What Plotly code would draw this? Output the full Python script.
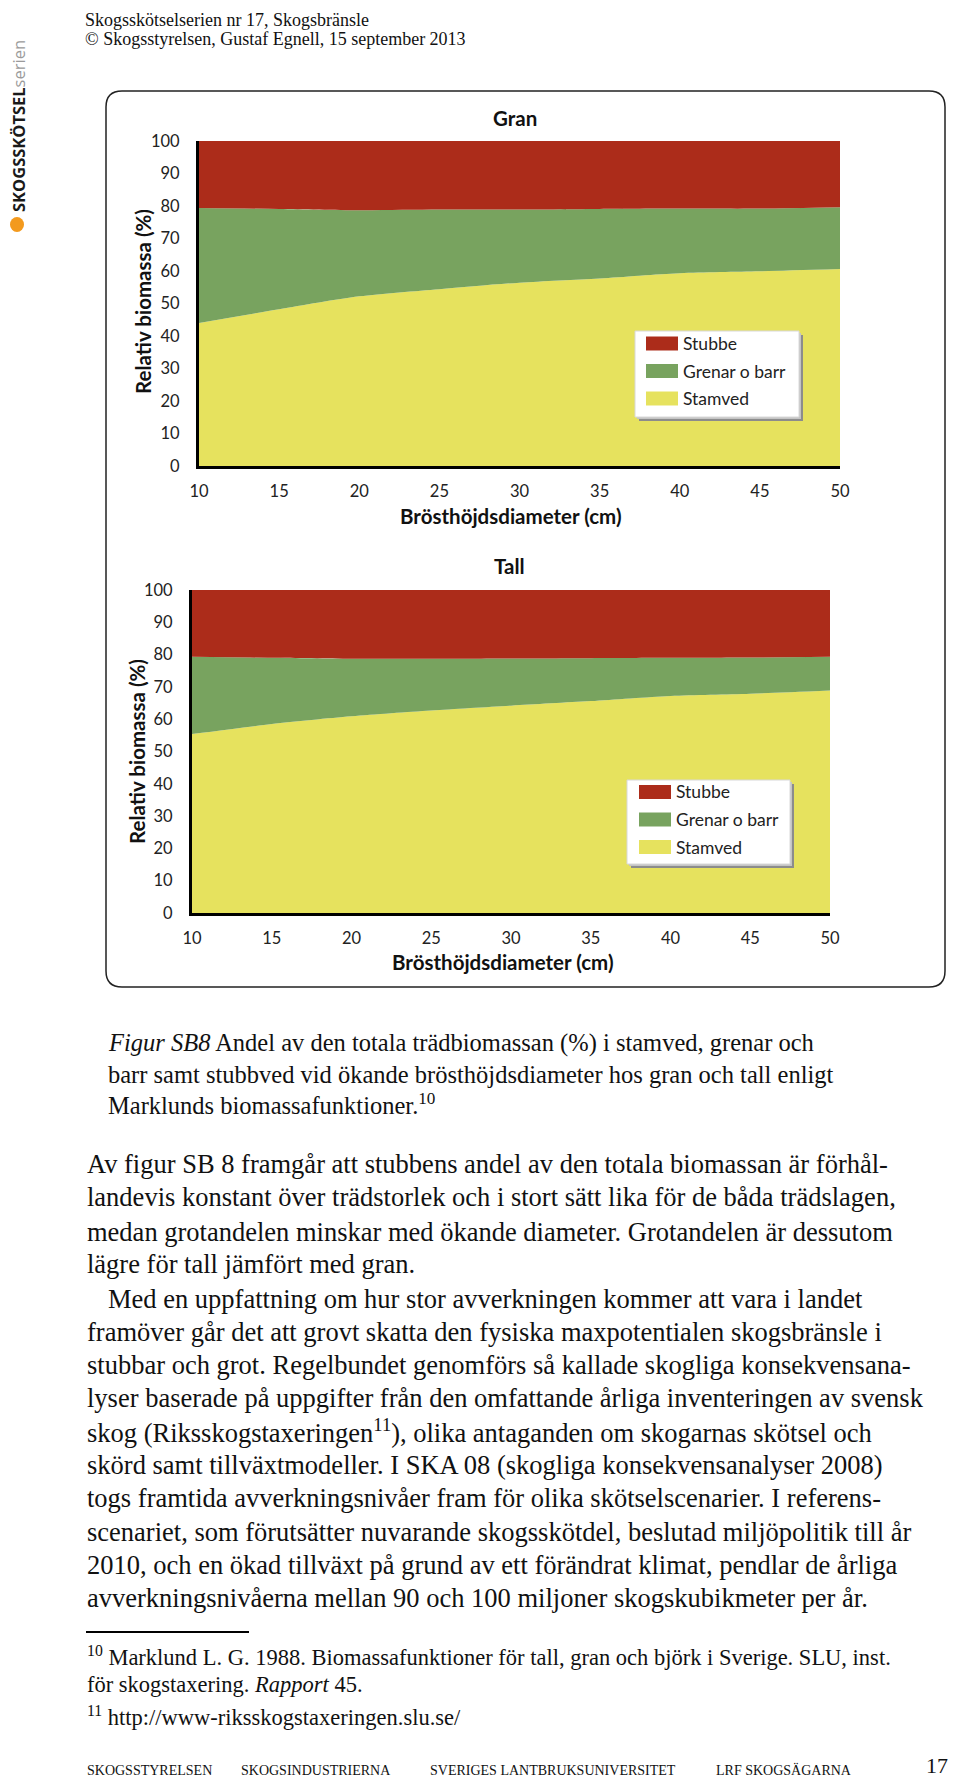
import plotly.graph_objects as go

# the page body has the browser's default 8px margin, so the figure starts
# at (8, 8) of the window; coordinates below are window pixels
OX, OY = 8, 8
FW, FH = 944, 1773


def px(x):
    return (x - OX) / FW


def py(y):
    return 1 - (y - OY) / FH


# ---------------- data ----------------
diameter = [10, 15, 20, 25, 30, 35, 40, 45, 50]
x_ticks = [10, 15, 20, 25, 30, 35, 40, 45, 50]
y_ticks = [0, 10, 20, 30, 40, 50, 60, 70, 80, 90, 100]

gran_stamved = [44.0, 48.2, 52.2, 54.4, 56.4, 57.7, 59.3, 59.9, 60.6]
gran_grenar = [35.4, 30.9, 26.5, 24.5, 22.5, 21.4, 19.9, 19.3, 19.0]
gran_stubbe = [20.6, 20.9, 21.3, 21.1, 21.1, 20.9, 20.8, 20.8, 20.4]

tall_stamved = [55.4, 58.5, 60.9, 62.7, 64.2, 65.6, 67.2, 67.9, 68.9]
tall_grenar = [23.9, 20.5, 17.8, 16.0, 14.6, 13.3, 11.8, 11.2, 10.4]
tall_stubbe = [20.7, 21.0, 21.3, 21.3, 21.2, 21.1, 21.0, 20.9, 20.7]

series_names = ["Stamved", "Grenar o barr", "Stubbe"]
series_colors = ["#E6E25E", "#78A35F", "#AC2C1A"]
legend_order = ["Stubbe", "Grenar o barr", "Stamved"]

SANS = "Lato, 'Open Sans', sans-serif"
SERIF = "'Liberation Serif', 'Times New Roman', serif"

fig = go.Figure()
for key, xa, ya, vals in [
    ("gran", "x", "y", [gran_stamved, gran_grenar, gran_stubbe]),
    ("tall", "x2", "y2", [tall_stamved, tall_grenar, tall_stubbe]),
]:
    for name, col, v in zip(series_names, series_colors, vals):
        fig.add_trace(go.Scatter(
            x=diameter, y=v, name=name, xaxis=xa, yaxis=ya,
            stackgroup=key, mode="lines",
            line=dict(width=0, shape="spline", smoothing=0.8, color=col),
            fillcolor=col, showlegend=False, hoverinfo="skip",
        ))

axis_common = dict(
    showgrid=False, zeroline=False, showline=True, linecolor="black",
    linewidth=3, ticks="", tickfont=dict(family=SANS, size=16.5, color="#222"),
    fixedrange=True, automargin=False,
)
fig.update_layout(
    xaxis=dict(domain=[px(199), px(840)], range=[10, 50], tickvals=x_ticks,
               anchor="y", ticklabelstandoff=8, **axis_common),
    yaxis=dict(domain=[py(466), py(141)], range=[0, 100], tickvals=y_ticks,
               anchor="x", ticklabelstandoff=13, **axis_common),
    xaxis2=dict(domain=[px(192), px(830)], range=[10, 50], tickvals=x_ticks,
                anchor="y2", ticklabelstandoff=8, **axis_common),
    yaxis2=dict(domain=[py(913), py(590)], range=[0, 100], tickvals=y_ticks,
                anchor="x2", ticklabelstandoff=13, **axis_common),
)

shapes = []
annotations = []


def text(x, y, s, size, family=SERIF, anchor="left", color="#111", angle=0):
    annotations.append(dict(xref="paper", yref="paper", x=px(x), y=py(y),
                            text=s, showarrow=False, xanchor=anchor,
                            yanchor="middle", textangle=angle, borderpad=0,
                            font=dict(family=family, size=size, color=color)))


def rect(x0, y0, x1, y1, fill, line_color=None, lw=0):
    shapes.append(dict(type="rect", xref="paper", yref="paper",
                       x0=px(x0), x1=px(x1), y0=py(y1), y1=py(y0),
                       fillcolor=fill, layer="above",
                       line=dict(width=lw, color=line_color or fill)))


# legend boxes: box x0, y0, x1, y1, swatch left, row centres
legend_boxes = [
    (635, 331, 799, 417, 646, [343.5, 371, 398.5]),
    (627, 780, 790, 864, 639, [792, 819.5, 847]),
]
col_of = dict(zip(series_names, series_colors))
for (x0, y0, x1, y1, sx, rows) in legend_boxes:
    rect(x0 + 4, y0 + 4, x1 + 4, y1 + 4, "#8c8c8c")
    rect(x0 + 2, y0 + 2, x1 + 2, y1 + 2, "#c4c4c4")
    rect(x0, y0, x1, y1, "white", "#d8d8d8", 1)
    for name, yc in zip(legend_order, rows):
        rect(sx, yc - 7, sx + 32, yc + 7, col_of[name])
        text(sx + 36, yc, name, 17.5, family=SANS, color="#222")

# rounded frame around both charts
bx0, bx1, by0, by1, r = 106, 945, 91, 987, 16


def P(x, y):
    return f"{px(x):.6f},{py(y):.6f}"


path = (f"M {P(bx0 + r, by0)} L {P(bx1 - r, by0)} Q {P(bx1, by0)} {P(bx1, by0 + r)} "
        f"L {P(bx1, by1 - r)} Q {P(bx1, by1)} {P(bx1 - r, by1)} "
        f"L {P(bx0 + r, by1)} Q {P(bx0, by1)} {P(bx0, by1 - r)} "
        f"L {P(bx0, by0 + r)} Q {P(bx0, by0)} {P(bx0 + r, by0)} Z")
shapes.append(dict(type="path", xref="paper", yref="paper", path=path,
                   line=dict(color="#222", width=1.5), layer="below"))

# footnote rule
shapes.append(dict(type="line", xref="paper", yref="paper",
                   x0=px(86), x1=px(249), y0=py(1632), y1=py(1632),
                   line=dict(color="black", width=2)))
# logo dot
shapes.append(dict(type="circle", xref="paper", yref="paper",
                   x0=px(10), x1=px(24), y0=py(232), y1=py(217),
                   fillcolor="#F39A1E", line=dict(width=0)))

# header (kept clear of the top edge of the page)
text(84, 20, "Skogsskötselserien nr 17, Skogsbränsle", 18)
text(84, 39, "© Skogsstyrelsen, Gustaf Egnell, 15 september 2013", 18)

# logo
text(18, 126, "<b>SKOGSSKÖTSEL</b><span style='color:#9a9a9a'>serien</span>", 16.5,
     family="'Open Sans', sans-serif", anchor="center", color="#1a1a1a", angle=-90)

# chart titles
text(515, 118, "<b>Gran</b>", 20.5, family=SANS, anchor="center")
text(509, 566, "<b>Tall</b>", 20.5, family=SANS, anchor="center")
text(511, 516, "<b>Brösthöjdsdiameter (cm)</b>", 20.5, family=SANS, anchor="center")
text(503, 962, "<b>Brösthöjdsdiameter (cm)</b>", 20.5, family=SANS, anchor="center")
text(143, 302, "<b>Relativ biomassa (%)</b>", 20.5, family=SANS, anchor="center", angle=-90)
text(137, 752, "<b>Relativ biomassa (%)</b>", 20.5, family=SANS, anchor="center", angle=-90)

# caption
caption = [
    "<i>Figur SB8</i> Andel av den totala trädbiomassan (%) i stamved, grenar och",
    "barr samt stubbved vid ökande brösthöjdsdiameter hos gran och tall enligt",
    "Marklunds biomassafunktioner.<sup>10</sup>",
]
for s, y in zip(caption, [1043, 1074, 1104]):
    text(107, y, s, 24.5)

body = [
    (86, "Av figur SB 8 framgår att stubbens andel av den totala biomassan är förhål-"),
    (86, "landevis konstant över trädstorlek och i stort sätt lika för de båda trädslagen,"),
    (86, "medan grotandelen minskar med ökande diameter. Grotandelen är dessutom"),
    (86, "lägre för tall jämfört med gran."),
    (107, "Med en uppfattning om hur stor avverkningen kommer att vara i landet"),
    (86, "framöver går det att grovt skatta den fysiska maxpotentialen skogsbränsle i"),
    (86, "stubbar och grot. Regelbundet genomförs så kallade skogliga konsekvensana-"),
    (86, "lyser baserade på uppgifter från den omfattande årliga inventeringen av svensk"),
    (86, "skog (Riksskogstaxeringen<sup>11</sup>), olika antaganden om skogarnas skötsel och"),
    (86, "skörd samt tillväxtmodeller. I SKA 08 (skogliga konsekvensanalyser 2008)"),
    (86, "togs framtida avverkningsnivåer fram för olika skötselscenarier. I referens-"),
    (86, "scenariet, som förutsätter nuvarande skogsskötdel, beslutad miljöpolitik till år"),
    (86, "2010, och en ökad tillväxt på grund av ett förändrat klimat, pendlar de årliga"),
    (86, "avverkningsnivåerna mellan 90 och 100 miljoner skogskubikmeter per år."),
]
body_y = [1164, 1197, 1232, 1264, 1299, 1332, 1365, 1398, 1431, 1465,
          1498, 1532, 1565, 1598]
for (x, s), y in zip(body, body_y):
    text(x, y, s, 26.5)

# footnotes
text(86, 1656, "<sup>10</sup> Marklund L. G. 1988. Biomassafunktioner för tall, gran och björk i Sverige. SLU, inst.", 22.5)
text(86, 1684, "för skogstaxering. <i>Rapport</i> 45.", 22.5)
text(86, 1716, "<sup>11</sup> http://www-riksskogstaxeringen.slu.se/", 22.5)

# footer
for x, s in [(86, "SKOGSSTYRELSEN"), (240, "SKOGSINDUSTRIERNA"),
             (429, "SVERIGES LANTBRUKSUNIVERSITET"), (715, "LRF SKOGSÄGARNA")]:
    text(x, 1770, s, 14)
text(937, 1765, "17", 22, anchor="center")

fig.update_layout(
    width=FW, height=FH,
    margin=dict(l=0, r=0, t=0, b=0, pad=0, autoexpand=False),
    paper_bgcolor="white", plot_bgcolor="white",
    shapes=shapes, annotations=annotations, showlegend=False,
)

fig.write_html("out.html")
